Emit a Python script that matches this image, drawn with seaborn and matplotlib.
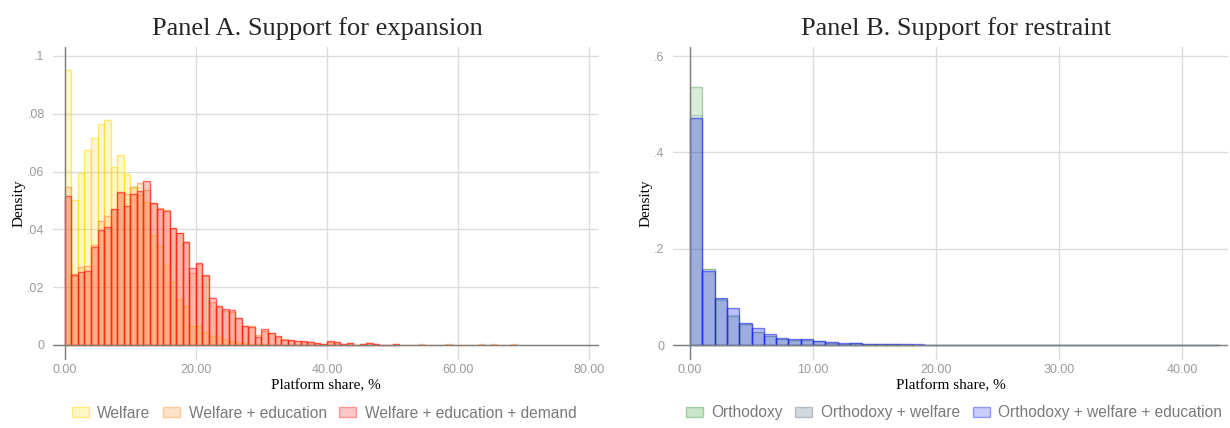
import numpy as np
import pandas as pd
import matplotlib
matplotlib.use("Agg")
import matplotlib.pyplot as plt
from matplotlib.patches import Patch
import seaborn as sns

# ---------------- data (densities per 1-point bin, starting at 0) ----------------
welfare = [0.0952, 0.0500, 0.0595, 0.0674, 0.0716, 0.0763, 0.0778, 0.0617, 0.0656, 0.0590,
           0.0548, 0.0520, 0.0495, 0.0382, 0.0342, 0.0276, 0.0219, 0.0160, 0.0135, 0.0066,
           0.0065, 0.0045, 0.0030, 0.0028, 0.0022, 0.0015, 0.0012, 0.0008, 0.0005, 0.0004,
           0.0003]
welfare_edu = [0.0545, 0.0245, 0.0269, 0.0273, 0.0346, 0.0428, 0.0447, 0.0472, 0.0525, 0.0522,
               0.0548, 0.0561, 0.0536, 0.0490, 0.0473, 0.0468, 0.0406, 0.0389, 0.0356, 0.0250,
               0.0280, 0.0237, 0.0150, 0.0131, 0.0118, 0.0114, 0.0093, 0.0067, 0.0064, 0.0034,
               0.0050, 0.0040, 0.0027, 0.0020, 0.0017, 0.0015, 0.0012, 0.0010, 0.0008, 0.0005,
               0.0012, 0.0010, 0.0004, 0.0006, 0.0000, 0.0004, 0.0007, 0.0004, 0.0000, 0.0000,
               0.0003, 0.0000, 0.0000, 0.0000, 0.0004, 0.0000, 0.0000, 0.0000, 0.0004, 0.0000,
               0.0000, 0.0000, 0.0000, 0.0004, 0.0000, 0.0004, 0.0000, 0.0000, 0.0004]
welfare_edu_dem = [0.0515, 0.0241, 0.0252, 0.0255, 0.0339, 0.0398, 0.0409, 0.0469, 0.0529, 0.0480,
                   0.0521, 0.0533, 0.0569, 0.0491, 0.0472, 0.0465, 0.0403, 0.0386, 0.0355, 0.0267,
                   0.0283, 0.0243, 0.0163, 0.0134, 0.0125, 0.0120, 0.0095, 0.0065, 0.0062, 0.0028,
                   0.0054, 0.0042, 0.0030, 0.0018, 0.0018, 0.0013, 0.0013, 0.0009, 0.0008, 0.0005,
                   0.0014, 0.0009, 0.0004, 0.0007, 0.0000, 0.0004, 0.0006, 0.0004, 0.0000, 0.0000,
                   0.0004]

orthodoxy = [0.535, 0.158, 0.096, 0.061, 0.043, 0.027, 0.018, 0.0125, 0.011, 0.011,
             0.008, 0.005, 0.003, 0.004, 0.0025, 0.0025, 0.0012, 0.0010, 0.0010, 0.0008,
             0.0008, 0.0006, 0.0006, 0.0005, 0.0005, 0.0004, 0.0008, 0.0004, 0.0004, 0.0004,
             0.0000, 0.0003, 0.0003, 0.0000, 0.0003, 0.0003, 0.0000, 0.0000, 0.0006, 0.0000,
             0.0000, 0.0003, 0.0003]
orthodoxy_wel = [0.478, 0.157, 0.094, 0.062, 0.043, 0.028, 0.019, 0.0128, 0.0115, 0.011,
                 0.0085, 0.0055, 0.0032, 0.0045, 0.0026, 0.0026, 0.0013, 0.0012, 0.0011, 0.0009,
                 0.0009, 0.0007, 0.0007, 0.0005, 0.0005, 0.0005, 0.0000, 0.0000, 0.0005, 0.0005,
                 0.0000, 0.0004, 0.0004, 0.0000, 0.0004, 0.0004, 0.0000, 0.0000, 0.0000, 0.0000,
                 0.0000, 0.0004, 0.0004]
orthodoxy_wel_edu = [0.471, 0.154, 0.098, 0.078, 0.046, 0.0353, 0.022, 0.0138, 0.0118, 0.0118,
                     0.009, 0.0062, 0.0035, 0.0048, 0.0028, 0.0028, 0.0014, 0.0014, 0.0012, 0.0010,
                     0.0010, 0.0008, 0.0008, 0.0006, 0.0006, 0.0006, 0.0000, 0.0000, 0.0005, 0.0005,
                     0.0000, 0.0005, 0.0005, 0.0000, 0.0005, 0.0005, 0.0000, 0.0000, 0.0000, 0.0000,
                     0.0000, 0.0005, 0.0005]

labels_A = ["Welfare", "Welfare + education", "Welfare + education + demand"]
labels_B = ["Orthodoxy", "Orthodoxy + welfare", "Orthodoxy + welfare + education"]
titles = ["Panel A. Support for expansion", "Panel B. Support for restraint"]
xlabel = "Platform share, %"
ylabel = "Density"
xticks_A = [0, 20, 40, 60, 80]
xticklabels_A = ["0.00", "20.00", "40.00", "60.00", "80.00"]
yticks_A = [0, 0.02, 0.04, 0.06, 0.08, 0.1]
yticklabels_A = ["0", ".02", ".04", ".06", ".08", ".1"]
xticks_B = [0, 10, 20, 30, 40]
xticklabels_B = ["0.00", "10.00", "20.00", "30.00", "40.00"]
yticks_B = [0, 0.2, 0.4, 0.6]
yticklabels_B = ["0", ".2", ".4", ".6"]

# ---------------- style ----------------
sns.set_style("white")
plt.rcParams["font.family"] = ["Liberation Sans", "DejaVu Sans"]
SERIF = ["Liberation Serif", "DejaVu Serif"]
TICK_C = "#9a9a9a"
LEG_C = "#7a7a7a"
GRID_C = "#dcdcdc"
AXIS_C = "#808080"


def rgb(h):
    h = h.lstrip("#")
    return tuple(int(h[i:i + 2], 16) / 255 for i in (0, 2, 4))


# (base colour, bar fill alpha, bar edge alpha, legend fill alpha, legend edge alpha)
styles_A = [
    (rgb("#FFD700"), 0.20, 0.50, 0.22, 0.45),
    (rgb("#FF8C28"), 0.20, 0.55, 0.25, 0.40),
    (rgb("#FF1E1E"), 0.25, 0.65, 0.25, 0.40),
]
styles_B = [
    (rgb("#339933"), 0.18, 0.40, 0.25, 0.40),
    (rgb("#70808F"), 0.06, 0.25, 0.30, 0.45),
    (rgb("#141EFF"), 0.28, 0.55, 0.22, 0.40),
]

W, H = 1230, 428
fig = plt.figure(figsize=(W / 100, H / 100), dpi=100)
axA = fig.add_axes([53 / W, 1 - 360 / H, (599 - 53) / W, (360 - 47) / H])
axB = fig.add_axes([673 / W, 1 - 360 / H, (1228 - 673) / W, (360 - 47) / H])


def draw_panel(ax, series, labels, styles, xlim, ylim, xt, xtl, yt, ytl, title, title_x,
               legend_x, ylabelpad):
    for vals, lab, (c, fa, ea, _, _) in zip(series, labels, styles):
        vals = np.asarray(vals, dtype=float)
        nb = len(vals)
        df = pd.DataFrame({"share": np.arange(nb) + 0.5, "density": vals})
        df = df[df["density"] > 0]
        sns.histplot(data=df, x="share", weights="density", bins=nb, binrange=(0, nb),
                     stat="count", ax=ax, facecolor=(*c, fa), edgecolor=(*c, ea),
                     linewidth=1.0, zorder=2)
    ax.set_xlim(*xlim)
    ax.set_ylim(*ylim)
    for s in ax.spines.values():
        s.set_visible(False)
    ax.set_xticks(xt)
    ax.set_xticklabels(xtl)
    ax.set_yticks(yt)
    ax.set_yticklabels(ytl)
    ax.tick_params(axis="both", length=0, labelsize=9, colors=TICK_C)
    ax.tick_params(axis="x", pad=3)
    ax.tick_params(axis="y", pad=6)
    ax.grid(True, color=GRID_C, linewidth=1.0, zorder=0)
    ax.set_axisbelow(True)
    ax.axhline(0, color=AXIS_C, linewidth=1.0, zorder=5)
    ax.axvline(0, color=AXIS_C, linewidth=1.0, zorder=5)
    ax.set_xlabel(xlabel, fontsize=11, family=SERIF, color="black", labelpad=2)
    ax.set_ylabel(ylabel, fontsize=11, family=SERIF, color="black", labelpad=ylabelpad)
    t = ax.set_title(title, fontsize=19, family=SERIF, pad=9)
    t.set_x(title_x)
    handles = [Patch(facecolor=(*c, la), edgecolor=(*c, lea), linewidth=1.0)
               for (c, _, _, la, lea) in styles]
    leg = ax.legend(handles, labels, loc="center", ncol=3, frameon=False,
                    bbox_to_anchor=(legend_x / W, 1 - 413 / H), bbox_transform=fig.transFigure,
                    fontsize=11.2, handlelength=1.1, handleheight=0.6, handletextpad=0.55,
                    columnspacing=0.8)
    for tx in leg.get_texts():
        tx.set_color(LEG_C)


draw_panel(axA, [welfare, welfare_edu, welfare_edu_dem], labels_A, styles_A,
           (-1.8, 81.5), (-0.0052, 0.1031), xticks_A, xticklabels_A, yticks_A, yticklabels_A,
           titles[0], 0.485, 324, 1)
draw_panel(axB, [orthodoxy, orthodoxy_wel, orthodoxy_wel_edu], labels_B, styles_B,
           (-1.38, 43.7), (-0.031, 0.619), xticks_B, xticklabels_B, yticks_B, yticklabels_B,
           titles[1], 0.51, 954, 1.5)

fig.savefig("out.png", dpi=100)
